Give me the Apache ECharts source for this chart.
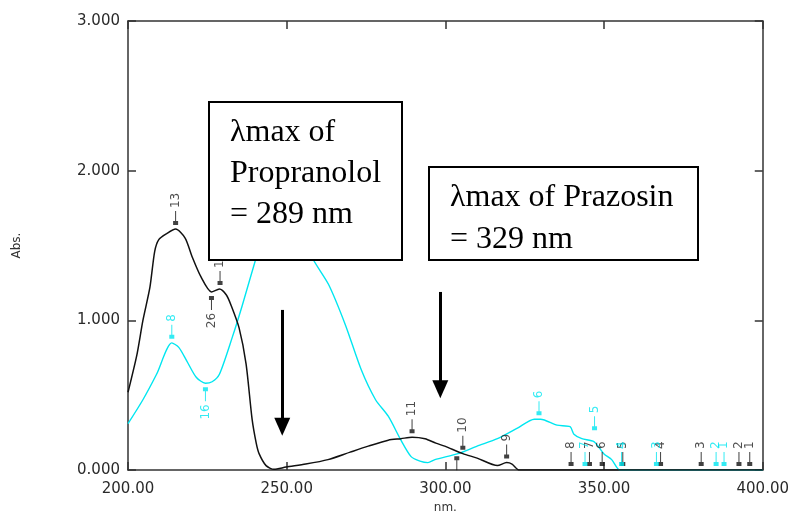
<!DOCTYPE html>
<html>
<head>
<meta charset="utf-8">
<script src="https://cdn.jsdelivr.net/npm/echarts@6/dist/echarts.min.js"></script>
<style>
  html, body { margin: 0; padding: 0; background: #fff; }
  #chart { width: 792px; height: 519px; }
</style>
</head>
<body>
<div id="chart"></div>
<script>
// wavelength (nm) / absorbance pairs
const propranolol = [
    [200, 0.52], [202.8, 0.77], [204.7, 1.0], [206.9, 1.22], [208.4, 1.46], [209.7, 1.54],
    [212.2, 1.58], [215, 1.61], [218, 1.55], [220.3, 1.42], [223, 1.29], [226.3, 1.19],
    [228.8, 1.21], [231, 1.17], [232.5, 1.1], [235, 0.95], [237.2, 0.71], [239.1, 0.34],
    [240.4, 0.18], [241.3, 0.11], [243.5, 0.03], [246, 0.005], [249.8, 0.02], [256, 0.04],
    [263, 0.07], [270, 0.12], [275.7, 0.16], [282, 0.2], [286, 0.21], [289.5, 0.22],
    [293.6, 0.21], [297, 0.18], [299.8, 0.16], [305.5, 0.11], [310, 0.08], [316.4, 0.03],
    [319.3, 0.05], [321, 0.04], [323.3, 0.0], [330, 0], [400, 0]
];
const prazosin = [
    [200, 0.31], [204.7, 0.47], [209, 0.64], [213.8, 0.85], [216, 0.82], [218.5, 0.73],
    [221.5, 0.62], [224.4, 0.58], [226.5, 0.59], [228.8, 0.64], [232.9, 0.89], [236, 1.1],
    [240.4, 1.42], [244, 1.66], [248, 1.8], [252, 1.75], [255, 1.6], [258, 1.42],
    [263.2, 1.24], [268.5, 0.97], [273.5, 0.67], [278, 0.47], [282, 0.36], [286, 0.2],
    [289.2, 0.09], [292, 0.06], [294.5, 0.05], [296.7, 0.07], [304, 0.11], [310, 0.16],
    [316.4, 0.21], [322.7, 0.28], [328, 0.34], [330, 0.34], [335.2, 0.3], [339.3, 0.29],
    [340.5, 0.24], [343, 0.21], [346.8, 0.19], [349.9, 0.11], [352.4, 0.07], [355, 0.0],
    [360, 0], [400, 0]
];

// peak / valley picks: [nm, abs, number]
const propranololPeaks = [
    [215, 1.61, '13'], [229, 1.21, '1'], [289.5, 0.22, '11'], [305.5, 0.11, '10'],
    [319.3, 0.05, '9'], [339.6, 0, '8'], [345.4, 0, '7'], [349.4, 0, '6'], [355.9, 0, '5'],
    [367.8, 0, '4'], [380.6, 0, '3'], [392.5, 0, '2'], [395.9, 0, '1']
];
const propranololValleys = [[226.3, 1.19, '26'], [303.6, 0.12, '']];
const prazosinPeaks = [
    [213.8, 0.85, '8'], [329.5, 0.34, '6'], [347, 0.24, '5'], [344, 0, '7'],
    [355.5, 0, '4'], [366.5, 0, '3'], [385.3, 0, '2'], [387.8, 0, '1']
];
const prazosinValleys = [[224.4, 0.58, '16']];

const xTicks = [200, 250, 300, 350, 400];
const yTicks = [0, 1, 2, 3];

// arrows pointing at the two lambda max
const arrows = [
    [[248.6, 1.07], [248.6, 0.29]],
    [[298.4, 1.19], [298.4, 0.54]]
];

const BLACK = '#111';
const CYAN = '#00e6f0';
const AXIS = '#333';
const FONT = 'DejaVu Sans';

const PEAK_PATH = 'path://M2,0 L3,0 L3,10 L5,10 L5,14 L0,14 L0,10 L2,10 Z';
const VALLEY_PATH = 'path://M0,0 L5,0 L5,4 L3,4 L3,14 L2,14 L2,4 L0,4 Z';

function picks (data, color, isPeak) {
    return {
        type: 'scatter',
        data: data,
        z: 3,
        silent: true,
        clip: false,
        symbol: isPeak ? PEAK_PATH : VALLEY_PATH,
        symbolSize: [5, 14],
        symbolOffset: [0, isPeak ? -11 : 11],
        itemStyle: { color: color },
        label: {
            show: true,
            formatter: p => p.data[2],
            position: isPeak ? 'top' : 'bottom',
            distance: 3,
            rotate: 90,
            align: isPeak ? 'left' : 'right',
            verticalAlign: 'middle',
            color: color === BLACK ? '#222' : color,
            fontFamily: FONT,
            fontSize: 12
        }
    };
}

function curve (data, color, width) {
    return {
        type: 'line',
        data: data,
        smooth: 0.25,
        showSymbol: false,
        silent: true,
        z: 2,
        lineStyle: { color: color, width: width }
    };
}

const axisCommon = {
    axisLine: { show: true, onZero: false, lineStyle: { color: AXIS, width: 1.5 } },
    axisTick: { show: true, inside: true, length: 8, lineStyle: { color: AXIS, width: 1.5 } },
    splitLine: { show: false }
};

const chart = echarts.init(document.getElementById('chart'));

const black = curve(propranolol, BLACK, 1.5);
black.markLine = {
    silent: true,
    symbol: ['none', 'triangle'],
    symbolSize: [16, 18],
    label: { show: false },
    lineStyle: { color: '#000', width: 3, type: 'solid' },
    data: arrows.map(a => [{ coord: a[0] }, { coord: a[1] }])
};

function textBox (left, top, w, h, text, lh) {
    return {
        type: 'group', left: left, top: top,
        children: [
            { type: 'rect', z: 100, shape: { x: 0, y: 0, width: w, height: h },
              style: { fill: '#fff', stroke: '#000', lineWidth: 2 } },
            { type: 'text', z: 101, x: 21, y: 10,
              style: { text: text, fill: '#000', font: '32px "Liberation Serif"', lineHeight: lh } }
        ]
    };
}

chart.setOption({
    animation: false,
    grid: { left: 128, right: 25, top: 21, bottom: 45 },
    xAxis: [
        Object.assign({}, axisCommon, {
            type: 'value', min: xTicks[0], max: xTicks[xTicks.length - 1], interval: 50,
            position: 'bottom',
            name: 'nm.', nameLocation: 'middle', nameGap: 30,
            nameTextStyle: { color: '#333', fontFamily: FONT, fontSize: 12 },
            axisLabel: { color: '#2a2a2a', fontFamily: FONT, fontSize: 15, margin: 12, formatter: v => v.toFixed(2) }
        }),
        Object.assign({}, axisCommon, {
            type: 'value', min: xTicks[0], max: xTicks[xTicks.length - 1], interval: 50,
            position: 'top', axisLabel: { show: false }
        })
    ],
    yAxis: [
        Object.assign({}, axisCommon, {
            type: 'value', min: yTicks[0], max: yTicks[yTicks.length - 1], interval: 1,
            position: 'left',
            name: 'Abs.', nameLocation: 'middle', nameGap: 105, nameRotate: 90,
            nameTextStyle: { color: '#333', fontFamily: FONT, fontSize: 12 },
            axisLabel: { color: '#2a2a2a', fontFamily: FONT, fontSize: 15, margin: 8, formatter: v => v.toFixed(3) }
        }),
        Object.assign({}, axisCommon, {
            type: 'value', min: yTicks[0], max: yTicks[yTicks.length - 1], interval: 1,
            position: 'right', axisLabel: { show: false }
        })
    ],
    series: [
        curve(prazosin, CYAN, 1.4),
        black,
        picks(propranololPeaks, BLACK, true),
        picks(propranololValleys, BLACK, false),
        picks(prazosinPeaks, CYAN, true),
        picks(prazosinValleys, CYAN, false)
    ],
    graphic: [
        textBox(208, 101, 193, 158, 'λmax of\nPropranolol\n= 289 nm', 41),
        textBox(428, 166, 269, 93, 'λmax of Prazosin\n= 329 nm', 42)
    ]
});
</script>
</body>
</html>
